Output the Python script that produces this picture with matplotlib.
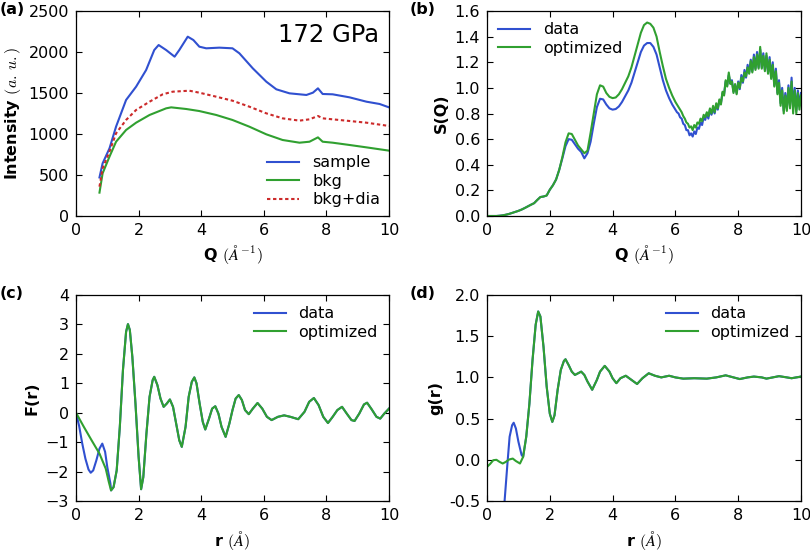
import numpy as np
import matplotlib
matplotlib.use("Agg")
import matplotlib.pyplot as plt

# ---------------- data ----------------
# (a) raw intensities
q_a = [0.75, 0.85, 1.07, 1.28, 1.6, 1.92, 2.24, 2.5, 2.64, 2.88, 3.15, 3.3, 3.57,
       3.75, 3.94, 4.16, 4.58, 5.0, 5.22, 5.65, 6.08, 6.4, 6.82, 7.36, 7.57, 7.73,
       7.88, 8.2, 8.74, 9.28, 9.7, 10.0]
sample = [470, 642, 825, 1090, 1415, 1577, 1780, 2024, 2085, 2024, 1943, 2024, 2187,
          2146, 2065, 2045, 2053, 2045, 1984, 1800, 1638, 1545, 1496, 1476, 1504, 1557,
          1488, 1484, 1447, 1394, 1366, 1325]

q_bkg = [0.75, 0.85, 1.07, 1.28, 1.6, 1.92, 2.35, 2.88, 3.04, 3.52, 3.94, 4.48, 5.0,
         5.54, 6.08, 6.6, 7.14, 7.46, 7.73, 7.88, 8.2, 8.74, 9.28, 10.0]
bkg = [285, 520, 724, 906, 1049, 1138, 1232, 1313, 1325, 1305, 1280, 1232, 1171,
       1089, 996, 927, 894, 906, 959, 906, 894, 866, 837, 797]

q_dia = [0.75, 0.85, 1.07, 1.28, 1.6, 1.92, 2.35, 2.77, 3.09, 3.62, 3.94, 4.48, 5.0,
         5.54, 6.08, 6.6, 7.14, 7.46, 7.73, 7.88, 8.2, 9.28, 10.0]
bkg_dia = [358, 581, 785, 1008, 1171, 1293, 1394, 1484, 1516, 1528, 1504, 1455, 1406,
           1333, 1252, 1191, 1163, 1179, 1220, 1191, 1179, 1138, 1098]

# (b) S(Q): 0..6 step 0.1, then 6.05..10 step 0.05
q_b = np.concatenate([np.linspace(0, 6, 61), np.linspace(6.05, 10, 80)])
sq_data = [0, 0, 0, 0, 0.002, 0.005, 0.01, 0.016, 0.024, 0.032,
           0.04, 0.05, 0.062, 0.075, 0.088, 0.10, 0.125, 0.148, 0.152, 0.16,
           0.205, 0.24, 0.285, 0.36, 0.45, 0.545, 0.60, 0.595, 0.56, 0.525,
           0.50, 0.45, 0.49, 0.58, 0.72, 0.85, 0.915, 0.91, 0.87, 0.84,
           0.83, 0.835, 0.855, 0.89, 0.935, 0.98, 1.04, 1.12, 1.20, 1.28,
           1.33, 1.35, 1.35, 1.32, 1.26, 1.16, 1.06, 0.98, 0.92, 0.87,
           0.83,
           0.81, 0.80, 0.77, 0.76, 0.72, 0.71, 0.67, 0.67, 0.63, 0.645,
           0.62, 0.66, 0.64, 0.69, 0.68, 0.73, 0.71, 0.77, 0.75, 0.80,
           0.76, 0.83, 0.79, 0.84, 0.80, 0.87, 0.83, 0.90, 0.88, 0.96,
           0.95, 1.05, 1.02, 1.10, 1.04, 1.06, 0.97, 1.02, 0.96, 1.05,
           0.99, 1.10, 1.04, 1.14, 1.08, 1.18, 1.12, 1.22, 1.13, 1.26,
           1.15, 1.28, 1.16, 1.30, 1.16, 1.27, 1.14, 1.25, 1.12, 1.24,
           1.08, 1.20, 1.02, 1.15, 0.96, 1.06, 0.88, 1.00, 0.82, 0.96,
           0.84, 1.02, 0.86, 1.08, 0.85, 1.00, 0.82, 0.98, 0.86, 0.96]
sq_opt = [0, 0, 0, 0, 0.002, 0.005, 0.01, 0.016, 0.024, 0.032,
          0.04, 0.05, 0.062, 0.075, 0.088, 0.10, 0.125, 0.148, 0.152, 0.16,
          0.205, 0.24, 0.285, 0.36, 0.46, 0.575, 0.645, 0.64, 0.595, 0.55,
          0.52, 0.49, 0.51, 0.65, 0.80, 0.95, 1.02, 1.01, 0.96, 0.93,
          0.92, 0.925, 0.95, 0.99, 1.04, 1.09, 1.16, 1.25, 1.34, 1.43,
          1.49, 1.51, 1.50, 1.47, 1.40, 1.28, 1.17, 1.07, 1.00, 0.94,
          0.89,
          0.87, 0.85, 0.83, 0.81, 0.78, 0.76, 0.73, 0.72, 0.69, 0.70,
          0.67, 0.71, 0.69, 0.73, 0.72, 0.76, 0.74, 0.79, 0.77, 0.81,
          0.78, 0.84, 0.80, 0.86, 0.81, 0.88, 0.84, 0.91, 0.87, 0.97,
          0.94, 1.06, 1.01, 1.12, 1.03, 1.05, 0.96, 1.03, 0.95, 1.04,
          1.00, 1.08, 1.05, 1.12, 1.09, 1.16, 1.11, 1.21, 1.12, 1.24,
          1.14, 1.26, 1.15, 1.32, 1.15, 1.25, 1.13, 1.27, 1.11, 1.22,
          1.07, 1.18, 1.01, 1.13, 0.95, 1.04, 0.86, 0.98, 0.80, 0.94,
          0.82, 1.00, 0.84, 1.05, 0.80, 0.98, 0.80, 0.96, 0.83, 0.94]

# (c) F(r)
r_c_lo_data = [0.0, 0.1, 0.2, 0.3, 0.4, 0.47, 0.55, 0.65, 0.75, 0.84, 0.93, 1.0, 1.1]
fr_lo_data = [0.0, -0.45, -1.05, -1.56, -1.93, -2.04, -1.96, -1.62, -1.22, -1.05, -1.33,
              -1.85, -2.41]
r_c_lo_opt = [0.0, 0.25, 0.5, 0.75, 0.95, 1.05]
fr_lo_opt = [0.0, -0.48, -0.94, -1.39, -1.90, -2.36]
r_c = [1.12, 1.2, 1.3, 1.4, 1.5, 1.6, 1.66, 1.72, 1.8, 1.9, 2.0, 2.08, 2.15, 2.25, 2.35,
       2.45, 2.5, 2.6, 2.7, 2.8, 2.9, 3.0, 3.1, 3.2, 3.3, 3.38, 3.5, 3.6, 3.7, 3.78,
       3.85, 3.95, 4.05, 4.13, 4.25, 4.35, 4.45, 4.55, 4.65, 4.78, 4.9, 5.0, 5.1, 5.2,
       5.3, 5.4, 5.52, 5.65, 5.8, 5.95, 6.1, 6.25, 6.45, 6.65, 6.85, 7.1, 7.3, 7.45,
       7.6, 7.75, 7.9, 8.05, 8.2, 8.35, 8.5, 8.65, 8.8, 8.9, 9.05, 9.2, 9.3, 9.45, 9.6,
       9.72, 9.85, 10.0]
fr = [-2.64, -2.53, -1.96, -0.48, 1.45, 2.75, 3.01, 2.81, 1.90, 0.31, -1.5, -2.6, -2.19,
      -0.71, 0.54, 1.11, 1.22, 0.94, 0.48, 0.20, 0.31, 0.45, 0.20, -0.37, -0.94, -1.16,
      -0.48, 0.54, 1.05, 1.20, 1.0, 0.31, -0.31, -0.57, -0.20, 0.14, 0.22, -0.03, -0.48,
      -0.82, -0.37, 0.09, 0.48, 0.60, 0.43, 0.09, -0.05, 0.14, 0.33, 0.14, -0.14, -0.25,
      -0.14, -0.09, -0.14, -0.22, 0.03, 0.37, 0.50, 0.26, -0.14, -0.35, -0.14, 0.09,
      0.20, -0.03, -0.25, -0.28, -0.03, 0.28, 0.34, 0.11, -0.14, -0.20, -0.03, 0.14]

# (d) g(r)
r_d_lo_data = [0.45, 0.55, 0.65, 0.72, 0.8, 0.85, 0.92, 1.0, 1.1]
gr_lo_data = [-1.0, -0.55, -0.05, 0.28, 0.42, 0.45, 0.38, 0.22, 0.06]
r_d_lo_opt = [0.0, 0.1, 0.2, 0.3, 0.4, 0.5, 0.6, 0.7, 0.82, 0.92, 1.05]
gr_lo_opt = [-0.087, -0.05, -0.005, 0.0, -0.025, -0.045, -0.025, 0.003, 0.015, -0.015,
             -0.045]
r_d = [1.15, 1.25, 1.35, 1.45, 1.55, 1.63, 1.7, 1.8, 1.9, 2.0, 2.08, 2.15, 2.25, 2.35,
       2.45, 2.5, 2.6, 2.7, 2.8, 2.9, 3.0, 3.1, 3.2, 3.35, 3.5, 3.6, 3.75, 3.9, 4.0,
       4.12, 4.25, 4.42, 4.6, 4.78, 4.95, 5.15, 5.35, 5.55, 5.8, 6.0, 6.25, 6.6, 7.0,
       7.3, 7.6, 7.85, 8.05, 8.3, 8.5, 8.75, 8.9, 9.1, 9.3, 9.55, 9.7, 10.0]
gr = [0.035, 0.28, 0.68, 1.21, 1.64, 1.80, 1.74, 1.37, 0.89, 0.56, 0.46, 0.54, 0.85,
      1.09, 1.20, 1.22, 1.15, 1.07, 1.03, 1.05, 1.07, 1.03, 0.95, 0.85, 0.97, 1.07,
      1.14, 1.07, 0.99, 0.93, 0.99, 1.02, 0.97, 0.92, 0.99, 1.05, 1.02, 1.0, 1.02, 1.0,
      0.985, 0.99, 0.985, 1.0, 1.025, 1.0, 0.98, 1.0, 1.01, 1.0, 0.985, 1.0, 1.015, 1.0,
      0.99, 1.01]

# ---------------- style ----------------
BLUE = '#3050d0'
GREEN = '#30a030'
RED = '#cc2a2a'
FS = 11.5

plt.rcParams.update({
    'font.family': ['DejaVu Sans'],
    'font.size': FS,
    'mathtext.fontset': 'cm',
    'xtick.direction': 'in', 'ytick.direction': 'in',
    'xtick.top': True, 'ytick.right': True,
    'xtick.major.size': 4.5, 'ytick.major.size': 4.5,
    'xtick.major.pad': 5, 'ytick.major.pad': 5,
    'axes.linewidth': 0.9,
    'legend.frameon': False,
    'legend.fontsize': FS,
    'legend.labelspacing': 0.22,
    'lines.solid_joinstyle': 'round',
})

fig = plt.figure(figsize=(8.10, 5.51), dpi=100, facecolor='white')
W, H = 810, 551


def rect(x0, y0, x1, y1):
    return [x0 / W, 1 - y1 / H, (x1 - x0) / W, (y1 - y0) / H]


ax_a = fig.add_axes(rect(76, 11, 389, 216))
ax_b = fig.add_axes(rect(487, 11, 801, 216))
ax_c = fig.add_axes(rect(76, 295, 389, 501))
ax_d = fig.add_axes(rect(487, 295, 801, 501))

LW = 1.5

# (a)
ax_a.plot(q_a, sample, color=BLUE, lw=LW, label='sample')
ax_a.plot(q_bkg, bkg, color=GREEN, lw=LW, label='bkg')
ax_a.plot(q_dia, bkg_dia, color=RED, lw=LW, dashes=(1.6, 1.3), label='bkg+dia')
ax_a.set_xlim(0, 10)
ax_a.set_ylim(0, 2500)
ax_a.set_yticks([0, 500, 1000, 1500, 2000, 2500])
ax_a.set_ylabel(r'Intensity $(a.\,u.)$', fontweight='bold')
ax_a.set_xlabel(r'Q $(\AA^{-1})$', fontweight='bold')
ax_a.text(0.97, 0.94, '172 GPa', transform=ax_a.transAxes, ha='right', va='top',
          fontsize=17.5)
ax_a.legend(loc='lower right', borderaxespad=0.15)

# (b)
ax_b.plot(q_b, sq_data, color=BLUE, lw=LW, label='data')
ax_b.plot(q_b, sq_opt, color=GREEN, lw=LW, label='optimized')
ax_b.set_xlim(0, 10)
ax_b.set_ylim(0, 1.6)
ax_b.set_yticks(np.arange(0, 1.61, 0.2))
ax_b.yaxis.set_major_formatter(matplotlib.ticker.FormatStrFormatter('%.1f'))
ax_b.set_ylabel('S(Q)', fontweight='bold')
ax_b.set_xlabel(r'Q $(\AA^{-1})$', fontweight='bold')
ax_b.legend(loc='upper left', borderaxespad=0.3)

# (c)
ax_c.plot(r_c_lo_data + r_c, fr_lo_data + fr, color=BLUE, lw=LW, label='data')
ax_c.plot(r_c_lo_opt + r_c, fr_lo_opt + fr, color=GREEN, lw=LW, label='optimized')
ax_c.set_xlim(0, 10)
ax_c.set_ylim(-3, 4)
ax_c.set_yticks(range(-3, 5))
ax_c.set_ylabel('F(r)', fontweight='bold')
ax_c.set_xlabel(r'r $(\AA)$', fontweight='bold')
ax_c.legend(loc='upper right', borderaxespad=0.3)

# (d)
ax_d.plot(r_d_lo_data + r_d, gr_lo_data + gr, color=BLUE, lw=LW, label='data')
ax_d.plot(r_d_lo_opt + r_d, gr_lo_opt + gr, color=GREEN, lw=LW, label='optimized')
ax_d.set_xlim(0, 10)
ax_d.set_ylim(-0.5, 2.0)
ax_d.set_yticks(np.arange(-0.5, 2.01, 0.5))
ax_d.yaxis.set_major_formatter(matplotlib.ticker.FormatStrFormatter('%.1f'))
ax_d.set_ylabel('g(r)', fontweight='bold')
ax_d.set_xlabel(r'r $(\AA)$', fontweight='bold')
ax_d.legend(loc='upper right', borderaxespad=0.3)

for ax in (ax_a, ax_b, ax_c, ax_d):
    ax.set_xticks([0, 2, 4, 6, 8, 10])

for txt, x, y in [('(a)', 0, 9), ('(b)', 410, 9), ('(c)', 0, 293), ('(d)', 410, 293)]:
    fig.text(x / W, 1 - y / H, txt, fontweight='bold', ha='left', va='center',
             fontsize=FS)

fig.savefig('out.png', dpi=100, facecolor='white')
